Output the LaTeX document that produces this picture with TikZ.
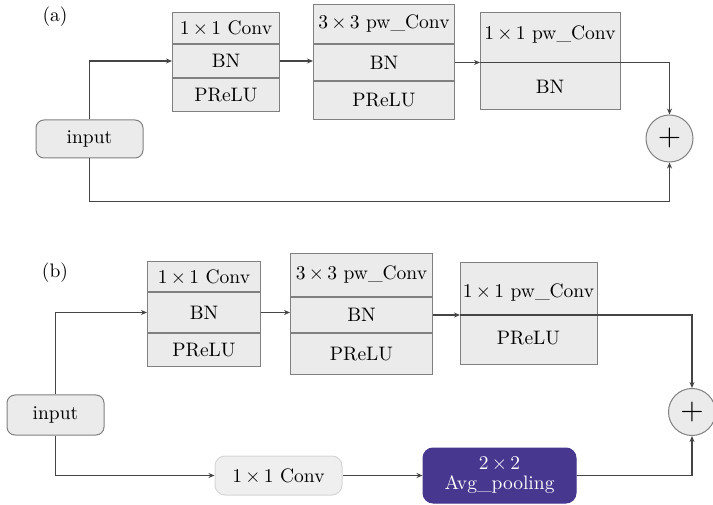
\documentclass[tikz,border=0pt]{standalone}
\usepackage{fontspec}
\setmainfont{lmroman10-regular.otf}
\usepackage{tikz}
\usetikzlibrary{arrows.meta,positioning}
\definecolor{cfill}{HTML}{EBEBEB}
\definecolor{cline}{HTML}{808080}
\definecolor{cwire}{HTML}{454545}
\definecolor{clight}{HTML}{D6D6D6}
\definecolor{cpool}{HTML}{47378F}
\newcommand{\blkfont}{\fontsize{19.5}{20}\selectfont}

\begin{document}
\begin{tikzpicture}[
    x=1pt, y=-1pt,
    cell/.style={draw=cline, fill=cfill, line width=1pt, inner sep=0pt, font=\blkfont},
    txt/.style={inner sep=0pt, font=\blkfont},
    inbox/.style={draw=cline, fill=cfill, line width=1pt, rounded corners=8pt, font=\blkfont},
    plus/.style={circle, draw=cline, fill=cfill, line width=1pt, inner sep=0pt,
        minimum size=47pt, font=\fontsize{30}{30}\selectfont},
    wire/.style={draw=cwire, line width=1.3pt, -{Stealth[length=6pt, width=5pt]}},
]
\useasboundingbox (0,0) rectangle (713,505);

% --- (a) ---
\node[txt] (laba) at (55,17) {(a)};
\node[inbox, minimum width=107pt, minimum height=38pt] (ina) at (89.5,139) {input};

% 1x1 Conv block
\node[cell, anchor=north west, minimum width=107pt, minimum height=31pt] (a1t) at (172,12) {1\,×\,1 Conv};
\node[cell, below=0pt of a1t, minimum width=107pt, minimum height=33pt] (a1m) {BN};
\node[cell, below=0pt of a1m, minimum width=107pt, minimum height=33pt] (a1b) {PReLU};

% 3x3 pw_Conv block
\node[cell, anchor=north west, minimum width=141pt, minimum height=39pt] (a2t) at (313,4) {3\,×\,3 pw\_Conv};
\node[cell, below=0pt of a2t, minimum width=141pt, minimum height=36pt] (a2m) {BN};
\node[cell, below=0pt of a2m, minimum width=141pt, minimum height=38pt] (a2b) {PReLU};

% 1x1 pw_Conv block
\node[cell, anchor=north west, minimum width=140pt, minimum height=97pt] (a3) at (480,12) {};
\node[txt] (a3t) at (550,35) {1\,×\,1 pw\_Conv};
\node[txt] (a3b) at (550,87) {BN};

\node[plus] (plusa) at (669.5,138.5) {+};

\draw[wire] (ina.north) |- (a1m.west);
\draw[wire] (a1m.east) -- (a1m.east -| a2m.west);
\draw[wire] (a2m.east) -- (a2m.east -| a3.west);
\draw[wire] (a2m.east -| a3.west) -| (plusa.north);
\draw[wire] (ina.south) -- ++(0,43) -| (plusa.south);

% --- (b) ---
\node[txt] (labb) at (55,273) {(b)};
\node[inbox, minimum width=97pt, minimum height=40pt] (inb) at (55.5,415) {input};

% 1x1 Conv block
\node[cell, anchor=north west, minimum width=113pt, minimum height=30pt] (b1t) at (147,261) {1\,×\,1 Conv};
\node[cell, below=0pt of b1t, minimum width=113pt, minimum height=40pt] (b1m) {BN};
\node[cell, below=0pt of b1m, minimum width=113pt, minimum height=33pt] (b1b) {PReLU};

% 3x3 pw_Conv block
\node[cell, anchor=north west, minimum width=142pt, minimum height=43pt] (b2t) at (290,253) {3\,×\,3 pw\_Conv};
\node[cell, below=0pt of b2t, minimum width=142pt, minimum height=35pt] (b2m) {BN};
\node[cell, below=0pt of b2m, minimum width=142pt, minimum height=41pt] (b2b) {PReLU};

% 1x1 pw_Conv block
\node[cell, anchor=north west, minimum width=137pt, minimum height=102pt] (b3) at (460,262) {};
\node[txt] (b3t) at (528.5,293) {1\,×\,1 pw\_Conv};
\node[txt] (b3b) at (528.5,338) {PReLU};

% shortcut branch
\node[inbox, draw=clight, fill=cfill!80, rounded corners=10pt, minimum width=127pt, minimum height=39pt] (convb) at (278.5,475.5) {1\,×\,1 Conv};
\node[inbox, draw=cpool, fill=cpool, text=white, rounded corners=10pt, align=center,
    minimum width=153pt, minimum height=55pt] (pool) at (499.5,475.5) {2\,×\,2\\Avg\_pooling};

\node[plus] (plusb) at (692,412) {+};

\draw[wire] (inb.north) |- (b1m.west);
\draw[wire] (b1m.east) -- (b1m.east -| b2m.west);
\draw[wire] (b2m.east) -- (b2m.east -| b3.west);
\draw[wire] (b2m.east -| b3.west) -| (plusb.north);
\draw[wire] (inb.south) |- (convb.west);
\draw[wire] (convb) -- (pool);
\draw[wire] (pool.east) -| (plusb.south);

\end{tikzpicture}
\end{document}
